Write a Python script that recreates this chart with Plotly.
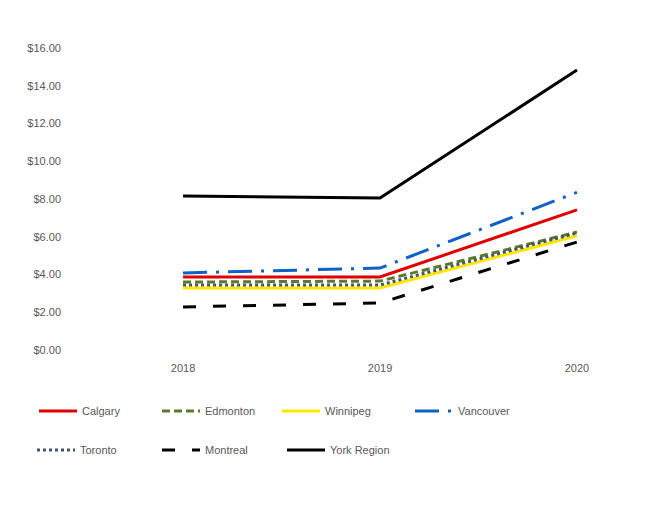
import plotly.graph_objects as go

years = ["2018", "2019", "2020"]
calgary = [3.87, 3.87, 7.42]
edmonton = [3.60, 3.65, 6.25]
winnipeg = [3.28, 3.28, 6.05]
vancouver = [4.08, 4.34, 8.35]
toronto = [3.44, 3.44, 6.20]
montreal = [2.28, 2.49, 5.72]
york = [8.16, 8.05, 14.83]
y_ticks = [0, 2, 4, 6, 8, 10, 12, 14, 16]
y_labels = ["$%.2f" % v for v in y_ticks]

# name, values, colour, dash, legend text pixel position (x, y) in page
series = [
    ("Calgary", calgary, "#E00000", "solid", (82, 411)),
    ("Edmonton", edmonton, "#5A7A2A", "8px,4px", (205, 411)),
    ("Winnipeg", winnipeg, "#FFE600", "solid", (325, 411)),
    ("Vancouver", vancouver, "#0E62C6", "24px,9px,3px,9px", (458, 411)),
    ("Toronto", toronto, "#44546A", "3px,3px", (80, 450)),
    ("Montreal", montreal, "#000000", "13px,17px", (205, 450)),
    ("York Region", york, "#000000", "solid", (330, 450)),
]

font = dict(family="Liberation Sans, Arial, sans-serif", size=11, color="#595959")
W, H = 648, 529
OFF = 8  # page body margin

fig = go.Figure()
legends = {}
for i, (name, vals, color, dash, pos) in enumerate(series):
    key = "legend" if i == 0 else "legend%d" % (i + 1)
    fig.add_trace(go.Scatter(
        x=years, y=vals, name=name, mode="lines",
        line=dict(color=color, width=3, dash=dash),
        legend=key,
    ))
    tx, ty = pos
    sample_start = tx - 42
    legends[key] = dict(
        xref="container", yref="container",
        x=(sample_start - OFF - 6) / W, y=1 - (ty - OFF) / H,
        xanchor="left", yanchor="middle", orientation="h", itemwidth=38,
        font=font, bgcolor="rgba(0,0,0,0)",
    )

fig.update_layout(
    width=W, height=H,
    paper_bgcolor="white", plot_bgcolor="white",
    margin=dict(l=62, r=16, t=32, b=177),
    font=font,
    showlegend=True,
    xaxis=dict(type="category", range=[-0.574, 2.32], showgrid=False, zeroline=False,
               showline=False, ticks="", tickfont=font),
    yaxis=dict(range=[-0.53, 16.42], tickvals=y_ticks, ticktext=y_labels,
               showgrid=False, zeroline=False, showline=False, ticks="",
               tickfont=font, ticklabelstandoff=8),
    **legends,
)
fig.write_html("out.html")
